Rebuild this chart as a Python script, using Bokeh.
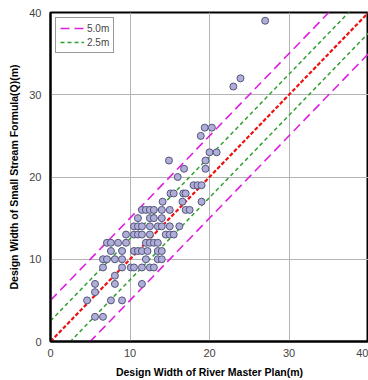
from bokeh.plotting import figure
from bokeh.models import Range1d, FixedTicker, Legend, LegendItem
from bokeh.embed import file_html
from bokeh.resources import INLINE

# Data
river_plan = [5.6, 6.6, 4.6, 7.6, 9.0, 5.6, 5.6, 8.1, 11.5, 8.1,
              6.6, 9.0, 10.1, 10.5, 11.5, 12.5, 13.0,
              6.6, 7.1, 8.1, 9.0, 12.0, 13.5, 14.0,
              7.6, 9.0, 10.5, 11.0, 11.5, 12.2, 13.5, 14.0,
              7.1, 7.6, 8.5, 9.5, 12.0, 12.5, 13.0, 13.5,
              9.5, 10.5, 11.0, 11.5, 12.5, 14.5, 15.0, 15.5,
              10.5, 11.0, 11.5, 12.5, 13.5, 14.0, 15.0, 16.2,
              11.0, 12.5, 13.0, 14.0,
              11.5, 12.0, 12.5, 13.0, 14.0, 15.0, 17.0, 17.5,
              14.1, 16.6, 19.0,
              15.1, 15.5, 16.7, 17.0,
              18.0, 18.5, 19.0,
              16.0,
              16.8, 19.5,
              14.9, 19.5,
              20.0, 20.9,
              18.9,
              19.4, 20.3,
              23.0, 23.9, 27.0]
small_stream = [3, 3, 5, 5, 5, 6, 7, 7, 7, 8,
                9, 9, 9, 9, 9, 9, 9,
                10, 10, 10, 10, 10, 10, 10,
                11, 11, 11, 11, 11, 11, 11, 11,
                12, 12, 12, 12, 12, 12, 12, 12,
                13, 13, 13, 13, 13, 13, 13, 13,
                14, 14, 14, 14, 14, 14, 14, 14,
                15, 15, 15, 15,
                16, 16, 16, 16, 16, 16, 16, 16,
                17, 17, 17,
                18, 18, 18, 18,
                19, 19, 19,
                20,
                21, 21,
                22, 22,
                23, 23,
                25,
                26, 26,
                31, 32, 39]

line_x = [0, 40]
offsets_5 = [5.0, -5.0]
offsets_25 = [2.5, -2.5]
ticks = [0, 10, 20, 30, 40]

p = figure(width=368, height=380, output_backend="svg", toolbar_location=None,
           x_range=Range1d(0, 40), y_range=Range1d(0, 40),
           min_border_left=50, min_border_right=0, min_border_top=12, min_border_bottom=39)
p.background_fill_color = "white"
p.border_fill_color = "white"
p.outline_line_color = "black"
p.outline_line_width = 2

for ax in (p.xaxis, p.yaxis):
    ax.ticker = FixedTicker(ticks=ticks)
    ax.major_tick_line_color = None
    ax.minor_tick_line_color = None
    ax.major_tick_out = 0
    ax.major_tick_in = 0
    ax.minor_tick_out = 0
    ax.minor_tick_in = 0
    ax.axis_line_color = "black"
    ax.axis_line_width = 2
    ax.major_label_text_font = "Liberation Sans"
    ax.major_label_text_font_size = "11px"
    ax.major_label_text_color = "#444444"
    ax.axis_label_text_font = "Liberation Sans"
    ax.axis_label_text_font_style = "bold"
    ax.axis_label_text_font_size = "10.5px"
    ax.axis_label_text_color = "black"

p.xaxis.axis_label = "Design Width of River Master Plan(m)"
p.yaxis.axis_label = "Design Width of Small Stream Formula(Q)(m)"
p.xaxis.major_label_standoff = 7
p.xaxis.axis_label_standoff = 6
p.yaxis.major_label_standoff = 9
p.yaxis.axis_label_standoff = 6

p.xgrid.grid_line_color = "#b4b4b4"
p.ygrid.grid_line_color = "#b4b4b4"
p.xgrid.grid_line_width = 1
p.ygrid.grid_line_width = 1

# reference lines
mag = []
for o in offsets_5:
    r = p.line(line_x, [x + o for x in line_x], line_color="#e020e0", line_width=1.6, line_dash="9 5")
    mag.append(r)
grn = []
for o in offsets_25:
    r = p.line(line_x, [x + o for x in line_x], line_color="#30a030", line_width=1.5, line_dash="4 3")
    grn.append(r)
p.line(line_x, line_x, line_color="#ee1111", line_width=2.2, line_dash="4 2")

p.scatter(river_plan, small_stream, size=7, fill_color="#aeaed8", line_color="#55557d", line_width=1)

legend = Legend(items=[LegendItem(label="5.0m", renderers=[mag[0]]),
                       LegendItem(label="2.5m", renderers=[grn[0]])],
                location="top_left")
legend.label_text_font = "Liberation Sans"
legend.label_text_font_size = "10px"
legend.label_text_color = "#444444"
legend.glyph_width = 24
legend.glyph_height = 12
legend.label_standoff = 3
legend.spacing = 2
legend.padding = 4
legend.margin = 5
legend.border_line_color = "#333333"
legend.border_line_width = 1
legend.background_fill_alpha = 1
p.add_layout(legend)

open("out.html", "w").write(file_html(p, INLINE))
